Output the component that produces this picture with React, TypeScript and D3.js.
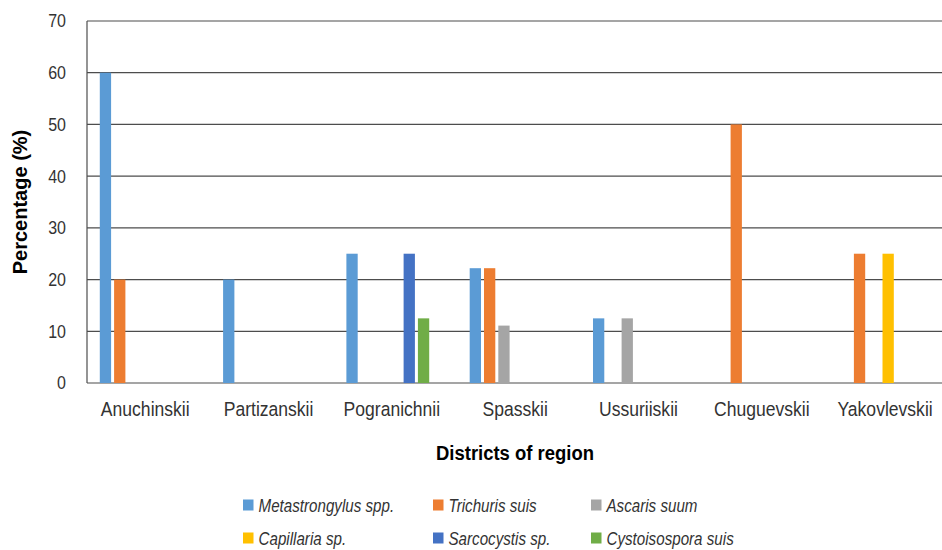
import * as d3 from "d3";

const districts = [
  "Anuchinskii",
  "Partizanskii",
  "Pogranichnii",
  "Spasskii",
  "Ussuriiskii",
  "Chuguevskii",
  "Yakovlevskii",
];

const species = [
  "Metastrongylus spp.",
  "Trichuris suis",
  "Ascaris suum",
  "Capillaria sp.",
  "Sarcocystis sp.",
  "Cystoisospora suis",
];

const colors = ["#5B9BD5", "#ED7D31", "#A5A5A5", "#FFC000", "#4472C4", "#70AD47"];

// one value per district, per species (0 = not found)
const metastrongylus = [60, 20, 25, 22.2, 12.5, 0, 0];
const trichuris = [20, 0, 0, 22.2, 0, 50, 25];
const ascaris = [0, 0, 0, 11.1, 12.5, 0, 0];
const capillaria = [0, 0, 0, 0, 0, 0, 25];
const sarcocystis = [0, 0, 25, 0, 0, 0, 0];
const cystoisospora = [0, 0, 12.5, 0, 0, 0, 0];

const seriesValues = [metastrongylus, trichuris, ascaris, capillaria, sarcocystis, cystoisospora];

const yTicks = [0, 10, 20, 30, 40, 50, 60, 70];

const W = 942;
const H = 550;
const margin = { top: 21, left: 87, bottom: 167 };
const font = "Liberation Sans, Arial, sans-serif";

// the source picture is squeezed a little horizontally, so text is too
const at = (x: number, y: number, sx: number) => `translate(${x},${y}) scale(${sx},1)`;

export default function App() {
  const plotBottom = H - margin.bottom;

  const y = d3.scaleLinear().domain([0, 70]).range([plotBottom, margin.top]);

  const x0 = d3
    .scaleBand<string>()
    .domain(districts)
    .range([83.6, 83.6 + 7 * 123.3])
    .padding(0);

  const x1 = d3
    .scaleBand<string>()
    .domain(species)
    .range([0, x0.bandwidth()])
    .paddingInner(0.21)
    .paddingOuter(1.415)
    .align(0.4);

  const bars: { key: string; x: number; y: number; h: number; fill: string }[] = [];
  species.forEach((s, si) => {
    districts.forEach((d, di) => {
      const v = seriesValues[si][di];
      if (!v) return;
      bars.push({
        key: `${s}-${d}`,
        x: (x0(d) || 0) + (x1(s) || 0),
        y: y(v),
        h: plotBottom - y(v),
        fill: colors[si],
      });
    });
  });

  const legendCols = [243, 433, 591];
  const legendRows = [505, 538];

  return (
    <svg
      width={W}
      height={H}
      style={{ position: "absolute", left: 0, top: 0, background: "#fff" }}
      fontFamily={font}
    >
      {yTicks.map((t) => (
        <g key={t}>
          <line
            x1={margin.left}
            x2={W}
            y1={y(t)}
            y2={y(t)}
            stroke="#4d4d4d"
            strokeWidth={1.2}
          />
          <text
            transform={at(66, y(t), 0.89)}
            dy="0.36em"
            textAnchor="end"
            fontSize={18}
            fill="#333"
          >
            {t}
          </text>
        </g>
      ))}
      <line
        x1={margin.left}
        x2={margin.left}
        y1={margin.top}
        y2={plotBottom}
        stroke="#4d4d4d"
        strokeWidth={1.2}
      />

      {bars.map((b) => (
        <rect key={b.key} x={b.x} y={b.y} width={x1.bandwidth()} height={b.h} fill={b.fill} />
      ))}

      {districts.map((d) => (
        <text
          key={d}
          transform={at((x0(d) || 0) + x0.bandwidth() / 2, 416, 0.9)}
          textAnchor="middle"
          fontSize={19.5}
          fill="#333"
        >
          {d}
        </text>
      ))}

      <text
        transform={at(515, 460, 0.88)}
        textAnchor="middle"
        fontSize={21}
        fontWeight="bold"
        fill="#000"
      >
        Districts of region
      </text>

      <text
        transform={`translate(27,${(margin.top + plotBottom) / 2}) rotate(-90)`}
        textAnchor="middle"
        fontSize={20}
        fontWeight="bold"
        fill="#000"
      >
        Percentage (%)
      </text>

      {species.map((s, i) => {
        const lx = legendCols[i % 3];
        const ly = legendRows[Math.floor(i / 3)];
        return (
          <g key={s}>
            <rect x={lx} y={ly - 5.5} width={10.5} height={11} fill={colors[i]} />
            <text
              transform={at(lx + 15.5, ly, 0.82)}
              dy="0.36em"
              fontSize={18.5}
              fontStyle="italic"
              fill="#333"
            >
              {s}
            </text>
          </g>
        );
      })}
    </svg>
  );
}
